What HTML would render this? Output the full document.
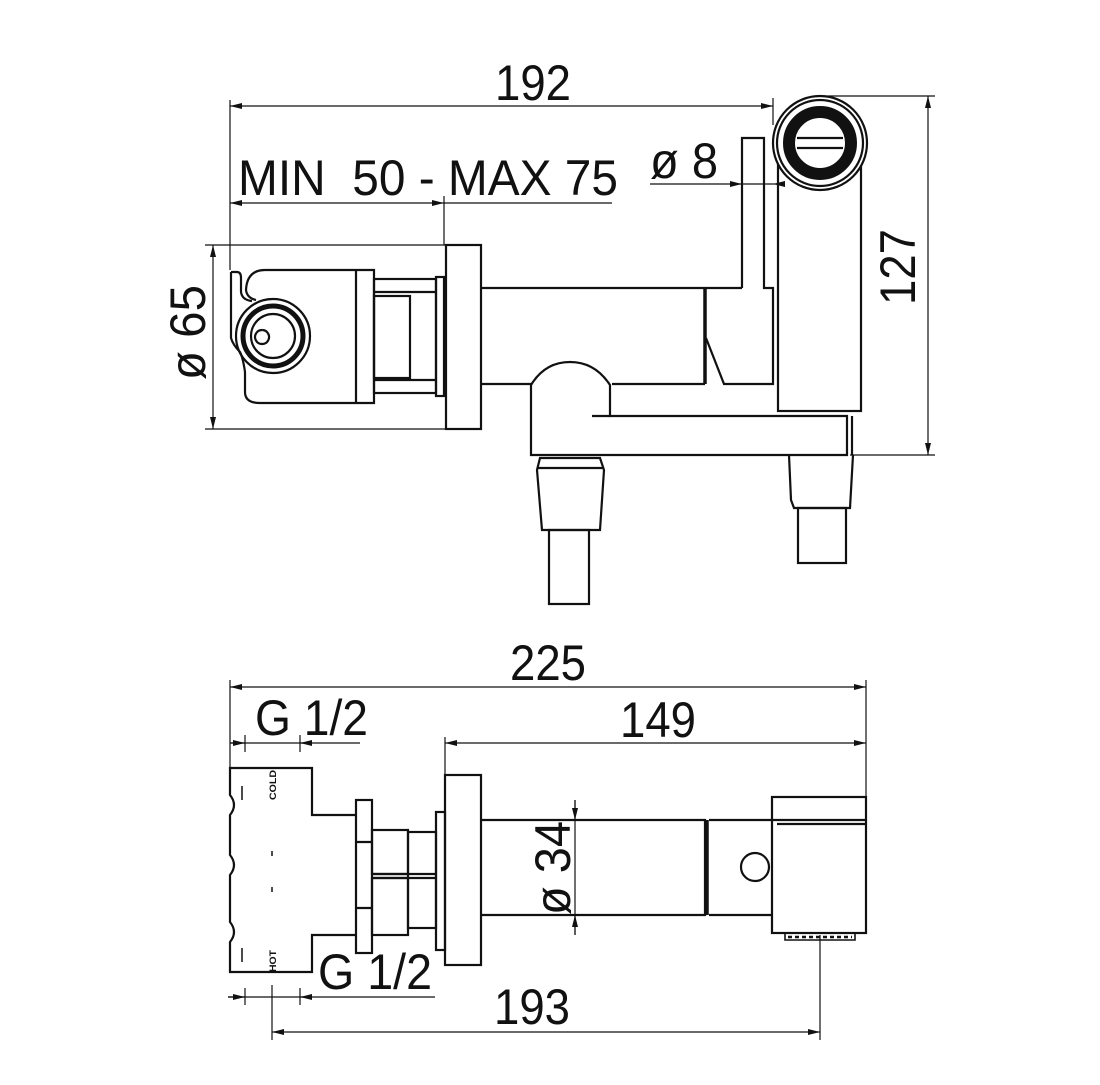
<!DOCTYPE html>
<html><head><meta charset="utf-8"><style>
html,body{margin:0;padding:0;background:#fff}
svg{display:block}
text{font-family:"Liberation Sans",sans-serif;fill:#111}
</style></head><body>
<svg width="1100" height="1085" viewBox="0 0 1100 1085" xmlns="http://www.w3.org/2000/svg">
<defs>
<marker id="a" markerWidth="12" markerHeight="6" refX="12" refY="3" orient="auto" markerUnits="userSpaceOnUse"><path d="M0,0L12,3L0,6z" fill="#111"/></marker>
<marker id="b" markerWidth="12" markerHeight="6" refX="0" refY="3" orient="auto" markerUnits="userSpaceOnUse"><path d="M12,0L0,3L12,6z" fill="#111"/></marker>
</defs>
<g stroke="#111" fill="none" stroke-width="1.2">
<line x1="230" y1="100" x2="230" y2="270"/>
<line x1="773" y1="98" x2="773" y2="125"/>
<line x1="230" y1="106" x2="773" y2="106" marker-start="url(#b)" marker-end="url(#a)"/>
<line x1="230" y1="203" x2="444" y2="203" marker-start="url(#b)" marker-end="url(#a)"/>
<line x1="444" y1="203" x2="612" y2="203"/>
<line x1="444" y1="196" x2="444" y2="245"/>
<line x1="650" y1="184" x2="742" y2="184" marker-end="url(#a)"/>
<line x1="785" y1="184" x2="773" y2="184" marker-end="url(#a)"/>
<line x1="742" y1="184" x2="773" y2="184"/>
<line x1="213" y1="245" x2="213" y2="429" marker-start="url(#b)" marker-end="url(#a)"/>
<line x1="205" y1="245" x2="446" y2="245"/>
<line x1="205" y1="429" x2="446" y2="429"/>
<line x1="928" y1="96" x2="928" y2="455" marker-start="url(#b)" marker-end="url(#a)"/>
<line x1="820" y1="96" x2="935" y2="96"/>
<line x1="850" y1="455" x2="935" y2="455"/>
</g>
<g stroke="#111" fill="none" stroke-width="2.2">
<path d="M231,272 L237,272 Q241,272 241,278 L241,292 Q242,300 252,301"/>
<path d="M231,272 L231,338 Q233,345 240,352 Q243,358 245,372 L245,392 Q245,403 260,403 L374,403 L374,270 L265,270 Q247,270 246,290 Q247,298 256,300"/>
<line x1="356" y1="270" x2="356" y2="403"/>
<circle cx="273" cy="336" r="37"/>
<circle cx="273" cy="336" r="30" stroke-width="5"/>
<circle cx="273" cy="336" r="22"/>
<path d="M262,330 a7,7 0 1,0 0.1,0"/>
<rect x="374" y="279" width="62" height="114"/>
<line x1="374" y1="292" x2="436" y2="292"/>
<line x1="374" y1="380" x2="436" y2="380"/>
<rect x="374" y="296" width="36" height="82"/>
<rect x="436" y="277" width="8" height="119"/>
<rect x="446" y="245" width="35" height="184"/>
<path d="M481,288 L742,288 M481,384 L532,384 M612,384 L705,384"/>
<line x1="705" y1="288" x2="705" y2="384" stroke-width="3.5"/>
<path d="M742,288 L742,138 L764,138 L764,288 L773,288 L773,384 L724,384 L706,338"/>
<rect x="778" y="150" width="83" height="261"/>
<circle cx="820" cy="143" r="47" fill="#fff"/>
<circle cx="820" cy="143" r="43"/>
<circle cx="820" cy="143" r="31" stroke-width="12"/>
<path d="M797,138 L843,138 M797,148 L843,148"/>
<path d="M531,455 L531,385 Q545,362 570,362 Q595,362 610,385 L610,416 L847,416 L847,455 Z" fill="#fff"/>
<line x1="592" y1="416" x2="610" y2="416"/>
<path d="M540,458 L600,458 L604,470 L600,530 L542,530 L537,470 Z"/>
<line x1="538" y1="468" x2="603" y2="468"/>
<rect x="549" y="530" width="40" height="74"/>
<path d="M789,455 L791,500 L794,508 L850,508 L853,455"/>
<rect x="798" y="508" width="48" height="55"/>
<line x1="852" y1="416" x2="852" y2="455"/>
</g>
<g stroke="#111" fill="none" stroke-width="1.2">
<line x1="230" y1="680" x2="230" y2="770"/>
<line x1="866" y1="680" x2="866" y2="800"/>
<line x1="230" y1="687" x2="866" y2="687" marker-start="url(#b)" marker-end="url(#a)"/>
<line x1="230" y1="743" x2="360" y2="743"/>
<line x1="230" y1="743" x2="245" y2="743" marker-end="url(#a)"/>
<line x1="245" y1="735" x2="245" y2="752"/>
<line x1="300" y1="735" x2="300" y2="752"/>
<line x1="312" y1="743" x2="300" y2="743" marker-end="url(#a)"/>
<line x1="445" y1="743" x2="866" y2="743" marker-start="url(#b)" marker-end="url(#a)"/>
<line x1="445" y1="737" x2="445" y2="778"/>
<line x1="575" y1="800" x2="575" y2="820" marker-end="url(#a)"/>
<line x1="575" y1="935" x2="575" y2="915" marker-end="url(#a)"/>
<line x1="575" y1="800" x2="575" y2="935"/>
<line x1="228" y1="997" x2="435" y2="997"/>
<line x1="228" y1="997" x2="245" y2="997" marker-end="url(#a)"/>
<line x1="245" y1="988" x2="245" y2="1005"/>
<line x1="300" y1="988" x2="300" y2="1005"/>
<line x1="312" y1="997" x2="300" y2="997" marker-end="url(#a)"/>
<line x1="272" y1="985" x2="272" y2="1040"/>
<line x1="820" y1="935" x2="820" y2="1040"/>
<line x1="272" y1="1032" x2="820" y2="1032" marker-start="url(#b)" marker-end="url(#a)"/>
</g>
<g stroke="#111" fill="none" stroke-width="2.2">
<path d="M355,815 L312,815 L312,768 L230,768 L230,795 Q238,805 230,815 L230,855 Q238,865 230,875 L230,922 Q238,932 230,942 L230,972 L312,972 L312,935 L355,935"/>
<line x1="242" y1="786" x2="242" y2="800" stroke-width="1.5"/>
<line x1="242" y1="948" x2="242" y2="962" stroke-width="1.5"/>
<line x1="272" y1="851" x2="272" y2="856" stroke-width="1.5"/>
<line x1="272" y1="887" x2="272" y2="892" stroke-width="1.5"/>
<rect x="356" y="800" width="16" height="153"/>
<path d="M356,842 L372,842 M356,908 L372,908"/>
<rect x="372" y="830" width="36" height="44"/>
<rect x="372" y="878" width="36" height="57"/>
<rect x="408" y="832" width="28" height="96"/>
<path d="M372,874 L436,874 M372,878 L436,878"/>
<rect x="436" y="812" width="9" height="138"/>
<rect x="445" y="775" width="36" height="190"/>
<path d="M481,820 L705,820 L705,915 L481,915"/>
<line x1="707" y1="820" x2="707" y2="915" stroke-width="3.5"/>
<path d="M709,820 L772,820 M709,915 L772,915"/>
<circle cx="755" cy="867" r="14"/>
<rect x="772" y="797" width="94" height="136"/>
<line x1="772" y1="820" x2="866" y2="820"/>
<line x1="777" y1="824" x2="866" y2="824"/>
<path d="M785,933 L785,940 L855,940 L855,933" stroke-width="1.6"/>
<line x1="788" y1="937" x2="852" y2="937" stroke-width="2.5" stroke-dasharray="4,3"/>
</g>
<g font-size="50">
<text x="495" y="100" textLength="76" lengthAdjust="spacingAndGlyphs">192</text>
<text x="238" y="195" textLength="380" lengthAdjust="spacingAndGlyphs">MIN&#160; 50 - MAX 75</text>
<text x="650" y="178" textLength="68" lengthAdjust="spacingAndGlyphs">ø 8</text>
<text transform="translate(205,380) rotate(-90)" textLength="95" lengthAdjust="spacingAndGlyphs">ø 65</text>
<text transform="translate(915,305) rotate(-90)" textLength="76" lengthAdjust="spacingAndGlyphs">127</text>
<text x="510" y="680" textLength="76" lengthAdjust="spacingAndGlyphs">225</text>
<text x="255" y="735" textLength="113" lengthAdjust="spacingAndGlyphs">G 1/2</text>
<text x="620" y="737" textLength="76" lengthAdjust="spacingAndGlyphs">149</text>
<text transform="translate(570,915) rotate(-90)" textLength="94" lengthAdjust="spacingAndGlyphs">ø 34</text>
<text x="318" y="989" textLength="114" lengthAdjust="spacingAndGlyphs">G 1/2</text>
<text x="494" y="1024" textLength="76" lengthAdjust="spacingAndGlyphs">193</text>
</g>
<g font-size="9" font-weight="bold">
<text transform="translate(276,800) rotate(-90)" textLength="30" lengthAdjust="spacingAndGlyphs">COLD</text>
<text transform="translate(276,972) rotate(-90)" textLength="22" lengthAdjust="spacingAndGlyphs">HOT</text>
</g>
</svg>
</body></html>
